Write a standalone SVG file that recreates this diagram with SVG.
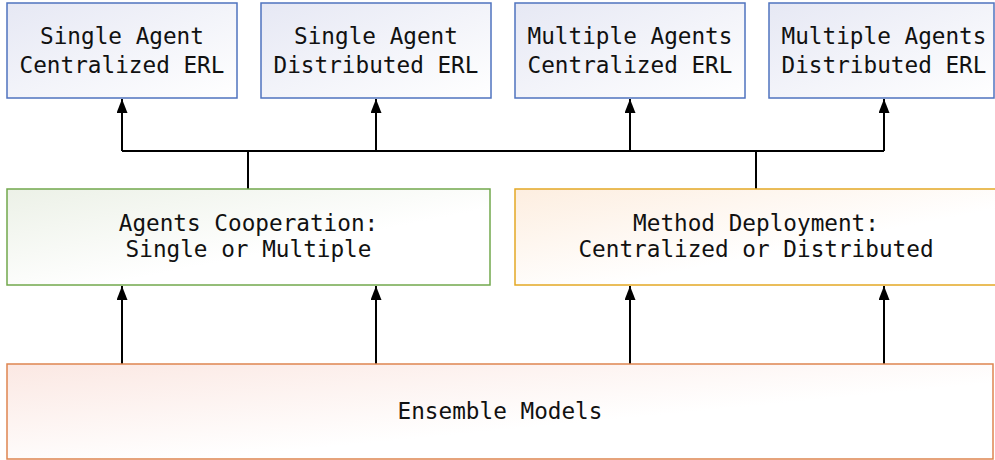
<svg xmlns="http://www.w3.org/2000/svg" width="995" height="460" viewBox="0 0 995 460">
<style>
text{font-family:"DejaVu Sans Mono","Liberation Mono",monospace;font-size:22.7px;fill:#111;text-anchor:middle}
.blue{stroke:#4f73bf;stroke-width:1.5}
.green{stroke:#72a84c;stroke-width:1.5}
.gold{stroke:#e3a825;stroke-width:1.5}
.orange{stroke:#de8550;stroke-width:1.5}
.con{stroke:#000;stroke-width:2;fill:none}
</style>
<defs>
<linearGradient id="gB" x1="0" y1="0" x2="1" y2="1"><stop offset="0" stop-color="#e6e8f4"/><stop offset="1" stop-color="#ffffff"/></linearGradient>
<linearGradient id="gG" x1="0" y1="0" x2="1" y2="1"><stop offset="0" stop-color="#ecf1e7"/><stop offset="0.6" stop-color="#ffffff"/></linearGradient>
<linearGradient id="gO" x1="0" y1="0" x2="1" y2="1"><stop offset="0" stop-color="#fdeee0"/><stop offset="0.6" stop-color="#ffffff"/></linearGradient>
<linearGradient id="gR" x1="0" y1="0" x2="1" y2="1"><stop offset="0" stop-color="#fbe8e3"/><stop offset="0.6" stop-color="#ffffff"/></linearGradient>
<marker id="ah" markerWidth="14" markerHeight="11" refX="14" refY="5.5" orient="auto" markerUnits="userSpaceOnUse"><path d="M0,0 L14,5.5 L0,11 Z" fill="#000"/></marker>
</defs>
<g id="connectors">
<path class="con" d="M122,151 H884"/>
<path class="con" d="M248,189 V151"/>
<path class="con" d="M756,189 V151"/>
<path class="con" d="M122,151 V99" marker-end="url(#ah)"/>
<path class="con" d="M376,151 V99" marker-end="url(#ah)"/>
<path class="con" d="M630,151 V99" marker-end="url(#ah)"/>
<path class="con" d="M884,151 V99" marker-end="url(#ah)"/>
<path class="con" d="M122,364 V286" marker-end="url(#ah)"/>
<path class="con" d="M376,364 V286" marker-end="url(#ah)"/>
<path class="con" d="M630,364 V286" marker-end="url(#ah)"/>
<path class="con" d="M884,364 V286" marker-end="url(#ah)"/>
</g>
<g id="n1"><rect class="blue" x="7" y="3" width="230" height="95" fill="url(#gB)"/><text x="122" y="44">Single Agent</text><text x="122" y="73">Centralized ERL</text></g>
<g id="n2"><rect class="blue" x="261" y="3" width="230" height="95" fill="url(#gB)"/><text x="376" y="44">Single Agent</text><text x="376" y="73">Distributed ERL</text></g>
<g id="n3"><rect class="blue" x="515" y="3" width="230" height="95" fill="url(#gB)"/><text x="630" y="44">Multiple Agents</text><text x="630" y="73">Centralized ERL</text></g>
<g id="n4"><rect class="blue" x="769" y="3" width="225" height="95" fill="url(#gB)"/><text x="884" y="44">Multiple Agents</text><text x="884" y="73">Distributed ERL</text></g>
<g id="n5"><rect class="green" x="7" y="189" width="483" height="96" fill="url(#gG)"/><text x="248.5" y="231">Agents Cooperation:</text><text x="248.5" y="257">Single or Multiple</text></g>
<g id="n6"><rect class="gold" x="515" y="189" width="484" height="96" fill="url(#gO)"/><text x="756" y="231">Method Deployment:</text><text x="756" y="257">Centralized or Distributed</text></g>
<g id="n7"><rect class="orange" x="7" y="364" width="986" height="95" fill="url(#gR)"/><text x="500" y="419">Ensemble Models</text></g>
</svg>
